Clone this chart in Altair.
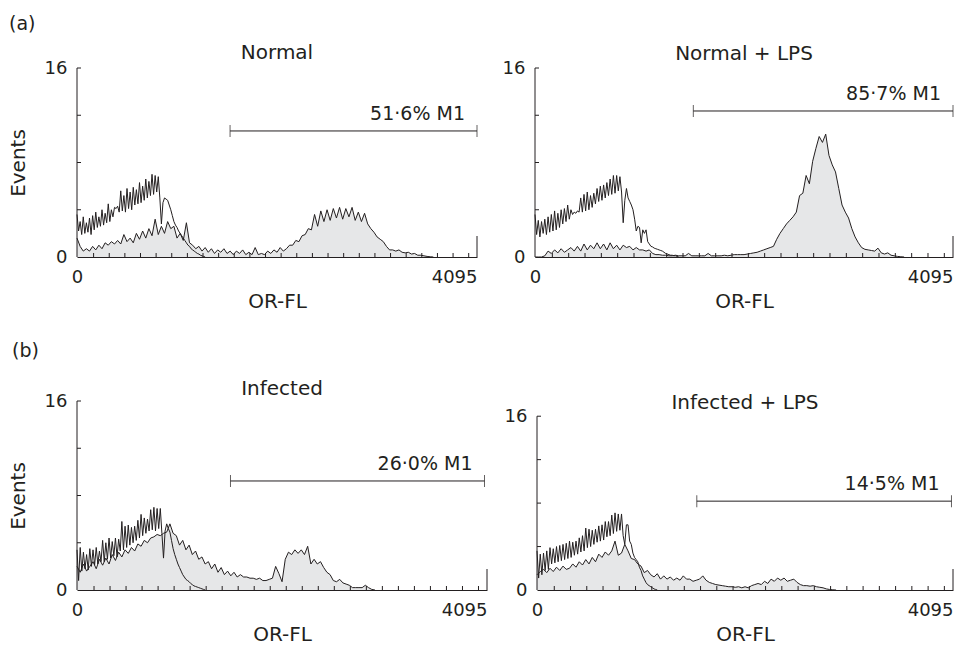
import altair as alt
import pandas as pd

FONT = "DejaVu Sans"
INK = "#231f20"
FILL = "#e6e7e8"

CTRL_STEP = 16  # channel width of the grid the unshaded curves were read on
TEST_STEP = 32  # channel width of the grid the shaded curves were read on

# ---------------- data (events per channel bin) -------------
NORMAL_CTRL = [3.6, 2.2, 3.0, 1.9, 3.4, 2.0, 2.9, 2.1, 3.3, 1.9, 3.5, 2.3, 3.8, 2.5, 3.4, 2.6,
               4.0, 2.7, 3.7, 2.9, 4.5, 3.0, 4.0, 3.4, 4.2, 4.1, 4.3, 3.8, 5.6, 3.9, 5.2, 3.8,
               5.8, 4.1, 5.5, 4.0, 5.9, 4.4, 5.7, 4.5, 6.3, 4.6, 6.0, 4.8, 6.6, 5.0, 6.4, 5.2,
               7.0, 5.3, 6.9, 5.5, 6.8, 5.0, 2.8, 4.6, 5.0, 4.9, 4.8, 4.4, 4.0, 3.5, 3.0, 2.7,
               2.5, 2.2, 2.0, 1.8, 1.6, 1.4, 1.2, 1.0, 0.9, 0.7, 0.6, 0.5, 0.4, 0.3, 0.25, 0.15,
               0.1, 0.05, 0.0]
NORMAL_TEST = [1.6, 0.9, 0.5, 0.7, 0.5, 0.9, 0.6, 1.0, 0.7, 1.2, 1.0, 1.3, 1.1, 1.4, 1.1, 1.9,
               1.3, 1.6, 1.2, 2.0, 1.5, 2.2, 1.6, 2.4, 1.8, 3.2, 1.9, 2.6, 2.0, 3.0, 2.4, 2.6,
               1.6, 2.0, 1.4, 2.9, 1.2, 1.0, 0.7, 0.9, 0.5, 0.8, 0.4, 0.7, 0.3, 0.6, 0.4, 0.7,
               0.3, 0.5, 0.2, 0.5, 0.3, 0.6, 0.2, 0.4, 0.2, 0.8, 0.2, 0.3, 0.2, 0.5, 0.3, 0.6,
               0.4, 0.8, 0.5, 0.7, 1.0, 1.0, 1.4, 1.3, 1.8, 1.9, 2.4, 2.3, 3.6, 2.6, 3.9, 3.0,
               4.0, 3.1, 4.1, 3.3, 4.2, 3.2, 4.1, 3.4, 4.2, 3.1, 3.8, 3.0, 3.7, 2.8, 2.4, 2.1,
               1.7, 1.5, 1.3, 0.9, 0.6, 0.6, 0.5, 0.6, 0.4, 0.35, 0.4, 0.25, 0.3, 0.15, 0.15, 0.1,
               0.05, 0.02, 0.0]

LPS_CTRL = [3.6, 1.9, 3.1, 1.7, 3.0, 2.0, 3.2, 1.9, 3.4, 2.1, 3.6, 2.2, 3.9, 2.3, 3.7, 2.5,
            4.0, 2.8, 4.1, 3.0, 4.4, 3.2, 4.0, 3.6, 3.8, 3.7, 3.9, 3.8, 5.0, 3.8, 5.3, 3.9,
            5.5, 4.0, 5.2, 4.2, 5.4, 4.5, 5.8, 4.7, 6.0, 4.8, 6.1, 5.0, 6.3, 5.2, 6.6, 5.3,
            6.9, 5.4, 6.9, 5.6, 6.8, 5.5, 2.9, 4.8, 5.8, 5.0, 4.7, 4.4, 4.0, 3.2, 2.2, 2.6,
            2.5, 1.2, 2.3, 2.0, 2.3, 1.3, 1.1, 0.9, 0.85, 0.75, 0.7, 0.65, 0.6, 0.55, 0.5, 0.4,
            0.3, 0.25, 0.2, 0.15, 0.15, 0.1, 0.1, 0.05, 0.0]
LPS_TEST = [0.0, 0.0, 0.0, 0.1, 0.5, 0.3, 0.6, 0.35, 0.7, 0.4, 0.6, 0.8, 0.5, 0.9, 0.5, 1.1,
            0.6, 1.0, 0.7, 1.2, 0.7, 1.1, 0.6, 1.2, 0.7, 1.0, 0.6, 1.0, 0.8, 0.9, 0.6, 0.8,
            0.6, 0.6, 0.5, 0.6, 0.3, 0.2, 0.2, 0.15, 0.15, 0.1, 0.1, 0.15, 0.1, 0.1, 0.1, 0.3,
            0.1, 0.1, 0.1, 0.1, 0.1, 0.3, 0.1, 0.1, 0.1, 0.1, 0.15, 0.1, 0.15, 0.2, 0.2, 0.2,
            0.2, 0.25, 0.3, 0.35, 0.4, 0.5, 0.6, 0.7, 0.8, 0.9, 1.5, 2.0, 2.4, 2.8, 3.1, 3.4,
            3.8, 5.2, 5.4, 6.9, 6.2, 8.1, 9.2, 10.2, 9.7, 10.4, 8.6, 7.8, 7.2, 5.8, 4.4, 3.8,
            3.3, 2.4, 1.7, 1.2, 0.8, 0.65, 0.6, 0.55, 0.5, 0.75, 0.35, 0.25, 0.35, 0.15, 0.1, 0.05,
            0.02, 0.0]

INF_CTRL = [3.4, 0.8, 3.6, 1.6, 3.2, 1.8, 3.0, 1.7, 3.5, 2.0, 3.4, 2.1, 3.6, 2.2, 3.3, 2.4,
            4.2, 2.4, 4.0, 2.6, 4.4, 2.7, 4.1, 2.9, 4.4, 2.8, 4.3, 3.3, 5.8, 3.4, 5.4, 3.6,
            5.5, 3.8, 5.3, 4.0, 5.4, 4.2, 5.9, 4.4, 6.4, 4.6, 6.1, 4.8, 6.0, 5.0, 6.8, 5.1,
            7.0, 5.0, 6.9, 5.2, 6.9, 4.8, 2.7, 5.0, 5.6, 5.2, 4.9, 4.2, 3.5, 3.0, 2.6, 2.2,
            1.9, 1.6, 1.3, 1.1, 0.9, 0.8, 0.7, 0.55, 0.45, 0.35, 0.3, 0.25, 0.2, 0.15, 0.1, 0.05,
            0.0]
INF_TEST = [2.0, 1.5, 2.2, 1.6, 2.0, 2.4, 1.8, 2.6, 2.1, 2.7, 2.2, 3.0, 2.5, 3.2, 2.8, 3.4,
            3.1, 3.6, 3.3, 3.9, 3.7, 4.2, 4.0, 4.4, 4.5, 4.7, 4.6, 4.8, 4.9, 5.6, 4.8, 4.6,
            3.8, 4.2, 3.4, 3.8, 3.0, 3.3, 2.6, 2.8, 2.2, 2.4, 1.8, 2.2, 1.5, 1.9, 1.3, 1.6,
            1.2, 1.5, 1.1, 1.3, 1.1, 1.1, 1.0, 1.0, 0.9, 1.0, 0.8, 0.8, 0.9, 1.0, 2.0, 1.4,
            0.7, 2.6, 3.2, 3.0, 3.4, 3.1, 3.4, 3.0, 3.7, 2.2, 2.6, 2.2, 2.4, 1.9, 1.5, 1.3,
            0.8, 0.7, 0.9, 0.6, 0.5, 0.4, 0.2, 0.2, 0.2, 0.2, 0.4, 0.2, 0.05, 0.0]

INF_LPS_CTRL = [3.6, 1.1, 3.3, 1.4, 3.4, 1.8, 3.6, 1.9, 3.9, 2.4, 3.8, 2.5, 4.0, 2.6, 4.1, 2.7,
                4.2, 2.8, 4.3, 2.9, 4.5, 3.0, 4.4, 3.2, 4.5, 3.3, 4.8, 3.5, 5.0, 3.6, 5.7, 3.9,
                5.6, 4.0, 5.5, 4.2, 5.6, 4.4, 5.9, 4.5, 6.0, 4.6, 6.3, 4.9, 6.3, 5.0, 6.9, 5.2,
                7.1, 5.4, 7.0, 5.5, 7.0, 5.0, 4.2, 6.0, 6.0, 4.5, 4.2, 3.4, 3.0, 2.8, 2.6, 2.1,
                1.8, 1.3, 1.0, 0.7, 0.5, 0.4, 0.3, 0.2, 0.1, 0.05, 0.0]
INF_LPS_TEST = [1.4, 1.7, 1.9, 1.6, 2.0, 1.7, 2.1, 1.8, 2.2, 1.9, 2.0, 2.4, 2.1, 2.6, 2.3, 2.8,
                2.4, 3.0, 2.6, 3.3, 3.0, 3.5, 3.2, 3.6, 4.5, 3.2, 3.4, 4.2, 3.6, 2.9, 2.8, 2.4,
                2.2, 1.6, 1.8, 1.4, 1.2, 1.5, 1.0, 1.3, 1.0, 1.2, 0.9, 1.1, 0.9, 1.3, 1.0, 1.0,
                0.8, 0.9, 1.0, 1.3, 0.9, 0.7, 0.6, 0.5, 0.45, 0.4, 0.35, 0.3, 0.3, 0.25, 0.3, 0.2,
                0.3, 0.2, 0.4, 0.5, 0.6, 0.5, 0.8, 0.6, 1.0, 0.8, 1.1, 0.9, 1.1, 0.8, 0.9, 1.0,
                0.7, 0.5, 0.4, 0.4, 0.35, 0.4, 0.3, 0.25, 0.2, 0.1, 0.05, 0.02, 0.0]

PANEL_TITLES = ["Normal", "Normal + LPS", "Infected", "Infected + LPS"]
M1_LABELS = ["51·6% M1", "85·7% M1", "26·0% M1", "14·5% M1"]
M1_START = [1567, 1551, 1533, 1573]
M1_END = [4095, 4095, 4070, 4080]
M1_LEVEL = [10.67, 12.36, 9.23, 8.18]
X_LABELS = [0, 4095]
Y_LABELS = [0, 16]
Y_TICKS = [4, 8, 12, 16]
X_TICKS = [170, 330, 490, 650, 810, 970, 1130, 1290, 1450, 1610, 1770, 1930, 2090, 2250,
           2410, 2570, 2730, 2890, 3050, 3210, 3370, 3530, 3690, 3850, 4010]

# ---------------- layout (pixels) ----------------
WIDTHS = [400, 418, 410, 416]
HEIGHT = 189
YMAX = [16, 16, 16, 17.4]
TITLE_OFFSET = [-4, -5, -7, -12]


def frame(values, step):
    return pd.DataFrame({"x": [i * step for i in range(len(values))], "y": values})


def panel(i, ctrl, test, show_ytitle):
    w = WIDTHS[i]
    h = HEIGHT
    xs = alt.Scale(domain=[0, 4095], nice=False, zero=False)
    ys = alt.Scale(domain=[0, YMAX[i]], nice=False, zero=True)
    x_axis = alt.Axis(
        values=X_LABELS, title="OR-FL", ticks=False, grid=False, domain=True, format="d",
        labelPadding=11, titlePadding=5, labelFlush=False, labelOverlap=False,
        labelAlign={"condition": {"test": "datum.value == 4095", "value": "right"},
                    "value": "center"},
    )
    y_axis = alt.Axis(
        values=Y_LABELS, title="Events" if show_ytitle else None, ticks=False,
        grid=False, domain=False, labelPadding=10, titlePadding=16, format="d",
    )
    X = alt.X("x:Q", scale=xs, axis=x_axis)
    Y = alt.Y("y:Q", scale=ys, axis=y_axis)

    d_test = frame(test, TEST_STEP)
    d_ctrl = frame(ctrl, CTRL_STEP)

    area = alt.Chart(d_test).mark_area(color=FILL, interpolate="linear").encode(x=X, y=Y)
    area_line = alt.Chart(d_test).mark_line(color=INK, strokeWidth=1).encode(x=X, y=Y)
    ctrl_line = alt.Chart(d_ctrl).mark_line(color=INK, strokeWidth=1).encode(x=X, y=Y)

    xt = alt.Chart(pd.DataFrame({"x": X_TICKS})).mark_rule(color=INK, strokeWidth=1).encode(
        x=X, y=alt.value(h), y2=alt.value(h - 4))
    end_t = alt.Chart(pd.DataFrame({"x": [4095]})).mark_rule(color=INK, strokeWidth=1).encode(
        x=X, y=alt.value(h), y2=alt.value(h - 21))
    yt = alt.Chart(pd.DataFrame({"y": Y_TICKS})).mark_rule(color=INK, strokeWidth=1).encode(
        y=Y, x=alt.value(0), x2=alt.value(4))
    yline = alt.Chart(pd.DataFrame({"y": [0], "y2": [16]})).mark_rule(
        color=INK, strokeWidth=1).encode(x=alt.value(0), y=Y, y2="y2:Q")

    mk = pd.DataFrame({"x": [M1_START[i]], "x2": [M1_END[i]], "y": [M1_LEVEL[i]],
                       "label": [M1_LABELS[i]]})
    caps = pd.DataFrame({"x": [M1_START[i], M1_END[i]], "y": [M1_LEVEL[i]] * 2})
    m_rule = alt.Chart(mk).mark_rule(color=INK, strokeWidth=1).encode(x=X, x2="x2:Q", y=Y)
    m_caps = alt.Chart(caps).mark_tick(color=INK, orient="vertical", size=12,
                                       thickness=1).encode(x=X, y=Y)
    m_text = alt.Chart(mk).mark_text(
        align="right", baseline="middle", dx=-12, dy=-17, font=FONT, fontSize=19,
        color=INK).encode(x=alt.X("x2:Q", scale=xs, axis=x_axis), y=Y, text="label:N")

    return alt.layer(area, area_line, ctrl_line, xt, end_t, yt, yline, m_rule, m_caps,
                     m_text).properties(
        width=w, height=h,
        title=alt.TitleParams(PANEL_TITLES[i], font=FONT, fontSize=20, fontWeight="normal",
                              color=INK, anchor="middle", frame="group",
                              offset=TITLE_OFFSET[i]),
    )


p1 = panel(0, NORMAL_CTRL, NORMAL_TEST, True)
p2 = panel(1, LPS_CTRL, LPS_TEST, False)
p3 = panel(2, INF_CTRL, INF_TEST, True)
p4 = panel(3, INF_LPS_CTRL, INF_LPS_TEST, False)

row_a = alt.hconcat(p1, p2, spacing=58, bounds="flush").properties(
    title=alt.TitleParams("(a)", anchor="start", frame="group", dx=-68, offset=9,
                          font=FONT, fontSize=19, fontWeight="normal", color=INK))
row_b = alt.hconcat(p3, p4, spacing=50, bounds="flush").properties(
    title=alt.TitleParams("(b)", anchor="start", frame="group", dx=-65, offset=18,
                          font=FONT, fontSize=19, fontWeight="normal", color=INK))

chart = alt.vconcat(row_a, row_b, spacing=333, bounds="flush").properties(
    padding={"left": 8, "top": 15, "right": 0, "bottom": 0},
    background="white",
).configure_view(stroke=None).configure_axis(
    labelFont=FONT, labelFontSize=18, labelColor=INK, titleFont=FONT, titleFontSize=20,
    titleFontWeight="normal", titleColor=INK, domainColor=INK, domainWidth=1,
)

chart.save("out.html", embed_options={"renderer": "svg", "actions": False})
